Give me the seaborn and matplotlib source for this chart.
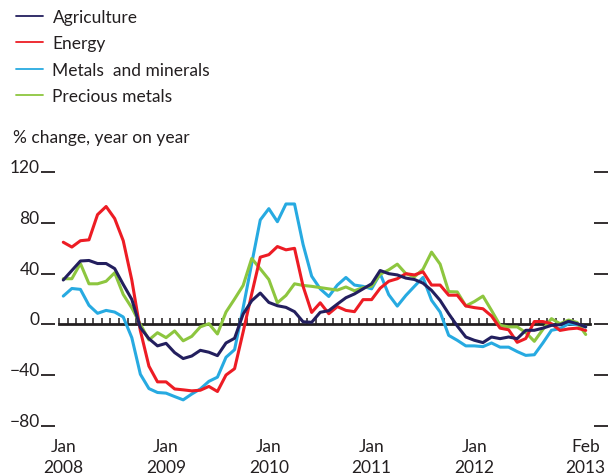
import numpy as np
import pandas as pd
import matplotlib
matplotlib.use("Agg")
import matplotlib.pyplot as plt
import seaborn as sns

# monthly % change, year on year, Jan 2008 - Feb 2013
agriculture = [35, 42.5, 50, 50.4, 48, 48, 44, 31.5, 19.7, -2.6, -11.3, -17, -15, -22.3, -27, -25,
               -20.5, -22, -24.7, -14.7, -11, 8.1, 18.6, 24.7, 17.3, 14.7, 13.4, 10, 2, 1.6, 9.5, 10.8,
               16, 21, 24, 28, 32, 42.5, 40, 39, 36.5, 35.4, 32.5, 26.8, 18.9, 8.4, -1.3, -10,
               -12.6, -14.4, -10, -11.3, -10, -11.3, -4.7, -4.7, -3, -0.8, -0.3, 2.4, 0.5, -2]
energy = [64.8, 61, 66, 66.7, 86.6, 93, 83.5, 66, 35, -5, -33, -45.4, -45.4, -51, -51.7, -52.5,
          -52, -49, -53, -40, -35, -6, 24, 53, 55, 61.4, 58.8, 60, 30, 9.4, 17, 8.4,
          14, 11, 10, 19.5, 19.5, 28.5, 34, 36, 40, 39, 41.5, 31, 31, 23, 23, 14.5,
          13.2, 12.3, 6.6, -3, -4.3, -14.2, -11.2, 2.2, 2.2, 0.5, -4.8, -3.6, -3, -4.8]
metals = [22.3, 28.3, 27.6, 15, 8.7, 11, 9.7, 5.8, -10.5, -39.4, -50.7, -53.8, -54.3, -57, -59.6, -55,
          -51, -45, -41.7, -26, -20, 13, 48, 82.4, 91.3, 81, 95, 95, 63, 38, 28, 22,
          31, 37, 31, 30, 28, 40, 23.4, 14.4, 22.8, 30, 37, 19, 9.7, -8.7, -12.6, -17,
          -17, -17.6, -14.7, -18, -18, -21.5, -24.5, -24, -14.7, -4.7, -3.4, 0.5, -0.3, -2]
precious = [36, 36, 48, 32, 32, 34, 40.7, 23.6, 13, 0, -12.3, -6.6, -10.5, -5.2, -13, -9.5,
            -2, 0.5, -7.6, 9.7, 20, 30.7, 52, 43.8, 35.4, 17, 22.8, 32, 30.7, 30, 29, 28,
            27, 29.5, 26.5, 29, 30, 39.5, 43, 47.5, 40, 37.5, 43.5, 57, 47.5, 25.8, 25.6, 14.5,
            18, 22.3, 11, -0.8, -2, -2, -6.5, -13.4, -4, 4.5, 0.5, 3.4, 1.5, -8]

names = ["Agriculture", "Energy", "Metals  and minerals", "Precious metals"]
colors = ["#231f5e", "#ed1c24", "#27aae1", "#8dc63f"]

tick_pos = [0, 12, 24, 36, 48, 61]
tick_labels = ["Jan\n2008", "Jan\n2009", "Jan\n2010", "Jan\n2011", "Jan\n2012", "Feb\n2013"]
y_ticks = [-80, -40, 0, 40, 80, 120]

month = np.arange(len(agriculture))
df = pd.concat([
    pd.DataFrame({"month": month, "value": agriculture, "series": names[0]}),
    pd.DataFrame({"month": month, "value": energy, "series": names[1]}),
    pd.DataFrame({"month": month, "value": metals, "series": names[2]}),
    pd.DataFrame({"month": month, "value": precious, "series": names[3]}),
])

sns.set_style("white")
plt.rcParams["font.family"] = ["Lato", "DejaVu Sans"]
ink = "#231f20"

fig = plt.figure(figsize=(6.15, 4.77), dpi=100)
ax = fig.add_axes([59 / 615, 1 - 426.7 / 477, 531 / 615, 253.4 / 477])

sns.lineplot(data=df, x="month", y="value", hue="series", hue_order=names,
             palette=colors, linewidth=2.2, ax=ax, legend=True)
for line, z in zip(ax.lines, [5, 4, 2, 3]):
    line.set_zorder(z)

ax.set_xlim(-0.5, len(agriculture) - 0.5)
ax.set_ylim(-80, 120)
ax.set_xlabel("")
ax.set_ylabel("")

# zero line with monthly ticks
for s in ["top", "left", "right"]:
    ax.spines[s].set_visible(False)
ax.spines["bottom"].set_position(("data", 0))
ax.spines["bottom"].set_color(ink)
ax.spines["bottom"].set_linewidth(2.0)
ax.spines["bottom"].set_zorder(1)
ax.set_xticks(np.arange(-0.5, len(agriculture)), minor=True)
ax.set_xticks([])
ax.tick_params(axis="x", which="minor", direction="in", length=4.3, width=1.1,
               color=ink, bottom=True, top=False)

# y ticks: labels + short dashes on the left, dashes on the right
ax.spines["left"].set_position(("outward", 3))
ax.spines["right"].set_position(("outward", 3))
ax.set_yticks(y_ticks, [str(v).replace("-", "\u2212") for v in y_ticks])
ax.tick_params(axis="y", which="major", direction="out", length=10, width=1.3,
               color=ink, left=True, right=True, labelleft=True, labelright=False,
               pad=1, labelsize=12.5, labelcolor=ink)
for lab in ax.get_yticklabels():
    lab.set_verticalalignment("baseline")

sec = ax.secondary_xaxis("bottom")
sec.set_xticks(tick_pos, tick_labels)
sec.tick_params(length=0, pad=9, labelsize=12.5, labelcolor=ink)
sec.spines["bottom"].set_visible(False)
for lab in sec.get_xticklabels():
    lab.set_linespacing(1.35)

handles, labels = ax.get_legend_handles_labels()
ax.get_legend().remove()
leg = fig.legend(handles, labels, loc="upper left", bbox_to_anchor=(16 / 615, 1 - 10 / 477),
                 frameon=False, fontsize=12.5, handlelength=1.55, handletextpad=0.55,
                 labelspacing=0.6, borderpad=0, borderaxespad=0)
for t in leg.get_texts():
    t.set_color(ink)
for l in leg.get_lines():
    l.set_linewidth(1.3)

fig.text(13 / 615, 1 - 138 / 477, "% change, year on year", fontsize=12.5, color=ink,
         va="center", ha="left")

fig.savefig("out.png", dpi=100)
